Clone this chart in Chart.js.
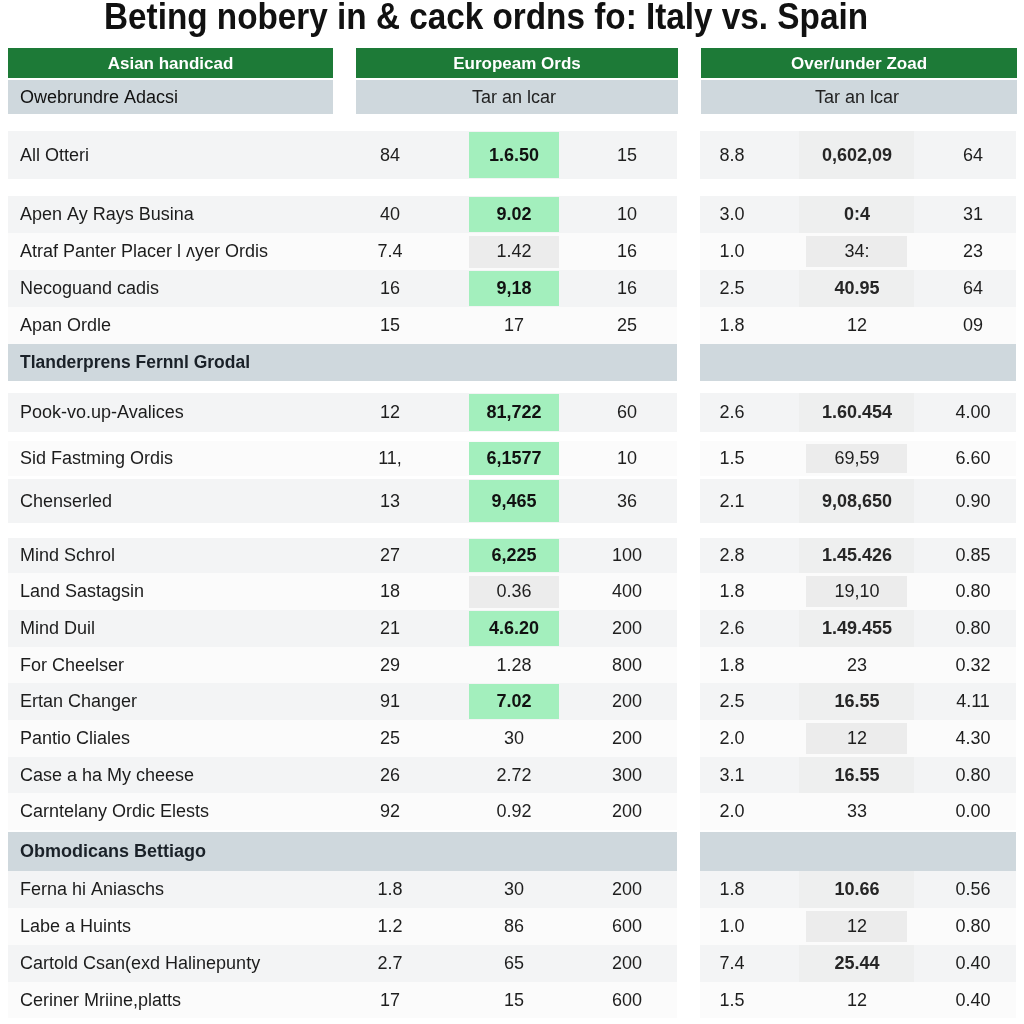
<!DOCTYPE html>
<html>
<head>
<meta charset="utf-8">
<script src="https://cdn.jsdelivr.net/npm/chart.js@4.4.1/dist/chart.umd.min.js"></script>
<style>
  html, body { margin: 0; padding: 0; background: #ffffff; }
  #wrap { width: 1024px; height: 1024px; }
</style>
</head>
<body>
<div id="wrap"><canvas id="oddsChart"></canvas></div>
<script>
// --- Data ---
const title = 'Beting nobery in & cack ordns fo: Italy vs. Spain';
const groupHeaders = ['Asian handicad', 'Europeam Ords', 'Over/under Zoad'];
const subHeaders = ['Owebrundre Adacsi', 'Tar an lcar', 'Tar an lcar'];
const sectionTitles = ['Tlanderprens Fernnl Grodal', 'Obmodicans Bettiago'];

const rowLabels = [
    'All Otteri', 'Apen Ay Rays Busina', 'Atraf Panter Placer l \u028Cyer Ordis', 'Necoguand cadis', 'Apan Ordle',
    'Pook-vo.up-Avalices', 'Sid Fastming Ordis', 'Chenserled', 'Mind Schrol', 'Land Sastagsin',
    'Mind Duil', 'For Cheelser', 'Ertan Changer', 'Pantio Cliales', 'Case a ha My cheese',
    'Carntelany Ordic Elests', 'Ferna hi Aniaschs', 'Labe a Huints', 'Cartold Csan(exd Halinepunty', 'Ceriner Mriine,platts'
];
const asianLine = ['84', '40', '7.4', '16', '15', '12', '11,', '13', '27', '18', '21', '29', '91', '25', '26', '92', '1.8', '1.2', '2.7', '17'];
const euroOdds = ['1.6.50', '9.02', '1.42', '9,18', '17', '81,722', '6,1577', '9,465', '6,225', '0.36', '4.6.20', '1.28', '7.02', '30', '2.72', '0.92', '30', '86', '65', '15'];
// g = best price (green), s = shaded cell, '' = plain
const euroMark = ['g', 'g', 's', 'g', '', 'g', 'g', 'g', 'g', 's', 'g', '', 'g', '', '', '', '', '', '', ''];
const euroStake = ['15', '10', '16', '16', '25', '60', '10', '36', '100', '400', '200', '800', '200', '200', '300', '200', '200', '600', '200', '600'];
const ouLine = ['8.8', '3.0', '1.0', '2.5', '1.8', '2.6', '1.5', '2.1', '2.8', '1.8', '2.6', '1.8', '2.5', '2.0', '3.1', '2.0', '1.8', '1.0', '7.4', '1.5'];
const ouOdds = ['0,602,09', '0:4', '34:', '40.95', '12', '1.60.454', '69,59', '9,08,650', '1.45.426', '19,10', '1.49.455', '23', '16.55', '12', '16.55', '33', '10.66', '12', '25.44', '12'];
const ouMark = [true, true, true, true, false, true, true, true, true, true, true, false, true, true, true, false, true, true, true, false];
const ouReturn = ['64', '31', '23', '64', '09', '4.00', '6.60', '0.90', '0.85', '0.80', '0.80', '0.32', '4.11', '4.30', '0.80', '0.00', '0.56', '0.80', '0.40', '0.40'];

// --- Layout (table geometry in scale units) ---
const vLayout = [
    { kind: 'head', gap: 48, h: 30 },
    { kind: 'sub', gap: 2, h: 34 },
    { kind: 'row', gap: 17, h: 48, shade: true },
    { kind: 'row', gap: 17, h: 37, shade: true },
    { kind: 'row', gap: 0, h: 37, shade: false },
    { kind: 'row', gap: 0, h: 37, shade: true },
    { kind: 'row', gap: 0, h: 37, shade: false },
    { kind: 'section', gap: 0, h: 37 },
    { kind: 'row', gap: 12, h: 39, shade: true },
    { kind: 'row', gap: 9, h: 35, shade: false },
    { kind: 'row', gap: 3, h: 44, shade: true },
    { kind: 'row', gap: 15, h: 35, shade: true },
    { kind: 'row', gap: 0, h: 37, shade: false },
    { kind: 'row', gap: 0, h: 37, shade: true },
    { kind: 'row', gap: 0, h: 36, shade: false },
    { kind: 'row', gap: 0, h: 37, shade: true },
    { kind: 'row', gap: 0, h: 37, shade: false },
    { kind: 'row', gap: 0, h: 36, shade: true },
    { kind: 'row', gap: 0, h: 37, shade: false },
    { kind: 'section', gap: 2, h: 39 },
    { kind: 'row', gap: 0, h: 37, shade: true },
    { kind: 'row', gap: 0, h: 37, shade: false },
    { kind: 'row', gap: 0, h: 37, shade: true },
    { kind: 'row', gap: 0, h: 36, shade: false }
];

const cols = {
    panels: [[8, 333], [356, 678], [701, 1017]],
    bands: [[8, 677], [700, 1016]],
    label: 20, asian: 390,
    euroBox: [469, 559], euro: 514, stake: 627,
    ouLine: 732, ouBox: [799, 914], ouBoxWhite: [806, 907], ouOdds: 857, ouRet: 973
};

const FONT = '"Liberation Sans", Arial, sans-serif';
const colors = {
    green: '#1d7a37', sub: '#cfd8dd', shade: '#f3f4f5', white: '#fbfbfb',
    best: '#a3efbd', soft: '#ececec', softOnShade: '#eeefef', text: '#1e1e1e'
};
const TEXT_DY = 1;

const tablePlugin = {
    id: 'oddsTable',
    beforeDatasetsDraw(chart) {
        const { ctx, scales: { x, y } } = chart;
        const px = v => x.getPixelForValue(v);
        const py = v => y.getPixelForValue(v);

        const rect = (x0, x1, y0, y1, color) => {
            ctx.fillStyle = color;
            ctx.fillRect(px(x0), py(y0), px(x1) - px(x0), py(y1) - py(y0));
        };
        const text = (s, xv, yv, align, font, color, maxW) => {
            ctx.font = font;
            ctx.fillStyle = color || colors.text;
            ctx.textAlign = align;
            ctx.textBaseline = 'middle';
            if (maxW) ctx.fillText(s, px(xv), py(yv + TEXT_DY), maxW);
            else ctx.fillText(s, px(xv), py(yv + TEXT_DY));
        };

        ctx.save();
        // Title
        ctx.font = `bold 36px ${FONT}`;
        ctx.fillStyle = '#111111';
        ctx.textAlign = 'center';
        ctx.textBaseline = 'alphabetic';
        ctx.fillText(title, px(486), py(29), 764);

        let top = 0;
        let r = 0;
        let s = 0;
        vLayout.forEach(item => {
            top += item.gap;
            const y0 = top, y1 = top + item.h, yc = (y0 + y1) / 2;
            top = y1;

            if (item.kind === 'head') {
                cols.panels.forEach((p, i) => {
                    rect(p[0], p[1], y0, y1, colors.green);
                    text(groupHeaders[i], (p[0] + p[1]) / 2, yc, 'center', `bold 17px ${FONT}`, '#ffffff');
                });
            } else if (item.kind === 'sub') {
                cols.panels.forEach(p => rect(p[0], p[1], y0, y1, colors.sub));
                text(subHeaders[0], cols.label, yc, 'left', `18px ${FONT}`, '#111111', 172);
                text(subHeaders[1], cols.euro, yc, 'center', `18px ${FONT}`, '#222222');
                text(subHeaders[2], cols.ouOdds, yc, 'center', `18px ${FONT}`, '#222222');
            } else if (item.kind === 'section') {
                cols.bands.forEach(b => rect(b[0], b[1], y0, y1, colors.sub));
                text(sectionTitles[s], cols.label, yc, 'left', `bold 18px ${FONT}`, '#1a2128', 230);
                s++;
            } else {
                const band = item.shade ? colors.shade : colors.white;
                cols.bands.forEach(b => rect(b[0], b[1], y0, y1, band));

                const mark = euroMark[r];
                if (mark === 'g') rect(cols.euroBox[0], cols.euroBox[1], y0 + 1, y1 - 1, colors.best);
                if (mark === 's') rect(cols.euroBox[0], cols.euroBox[1], y0 + 3, y1 - 2, colors.soft);
                if (ouMark[r]) {
                    if (item.shade) rect(cols.ouBox[0], cols.ouBox[1], y0, y1, colors.softOnShade);
                    else rect(cols.ouBoxWhite[0], cols.ouBoxWhite[1], y0 + 3, y1 - 3, colors.soft);
                }

                const reg = `18px ${FONT}`;
                const bold = `bold 18px ${FONT}`;
                text(rowLabels[r], cols.label, yc, 'left', reg, '#1c1c1c');
                text(asianLine[r], cols.asian, yc, 'center', reg);
                text(euroOdds[r], cols.euro, yc, 'center', mark === 'g' ? bold : reg, mark === 'g' ? '#111111' : undefined);
                text(euroStake[r], cols.stake, yc, 'center', reg);
                text(ouLine[r], cols.ouLine, yc, 'center', reg);
                text(ouOdds[r], cols.ouOdds, yc, 'center', item.shade ? bold : reg, item.shade ? '#262626' : undefined);
                text(ouReturn[r], cols.ouRet, yc, 'center', reg);
                r++;
            }
        });
        ctx.restore();
    }
};

new Chart(document.getElementById('oddsChart'), {
    type: 'scatter',
    data: { datasets: [{ data: [] }] },
    options: {
        responsive: true,
        maintainAspectRatio: false,
        animation: false,
        layout: { padding: 0 },
        plugins: { legend: { display: false }, tooltip: { enabled: false }, title: { display: false } },
        scales: {
            x: { type: 'linear', min: 0, max: 1024, display: false },
            y: { type: 'linear', min: 0, max: 1024, reverse: true, display: false }
        }
    },
    plugins: [tablePlugin]
});
</script>
</body>
</html>
